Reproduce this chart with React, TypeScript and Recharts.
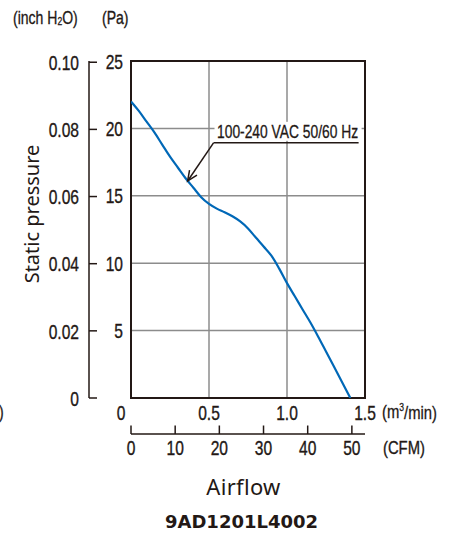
import React from "react";
import {
  LineChart,
  Line,
  XAxis,
  YAxis,
  CartesianGrid,
  ReferenceArea,
  ReferenceLine,
} from "recharts";

// P-Q curve (m3/min vs Pa)
const FLOW_M3 = [
  0, 0.05, 0.1, 0.15, 0.2, 0.25, 0.3, 0.35, 0.4, 0.45, 0.5, 0.55, 0.6, 0.65,
  0.7, 0.75, 0.8, 0.85, 0.9, 0.95, 1.0, 1.05, 1.1, 1.15, 1.2, 1.25, 1.3, 1.35,
  1.406,
];
const PRESSURE_PA = [
  22.0, 21.3, 20.5, 19.7, 18.8, 17.9, 17.1, 16.3, 15.6, 14.9, 14.4, 14.05,
  13.78, 13.48, 13.1, 12.58, 11.9, 11.24, 10.56, 9.6, 8.52, 7.55, 6.57, 5.6,
  4.55, 3.45, 2.35, 1.24, 0,
];

const PA_TICKS = [5, 10, 15, 20, 25];
const INCH_TICKS = [0, 0.02, 0.04, 0.06, 0.08, 0.1];
const M3_TICKS = [0, 0.5, 1.0, 1.5];
const CFM_TICKS = [0, 10, 20, 30, 40, 50];

const PA_MAX = 25;
const M3_MAX = 1.5;
const PA_PER_INCH = 249.089;
const CFM_PER_M3 = 35.3147;

// leader line of the curve label, in m3/min and Pa
const LABEL_TIP = { x: 0.363, y: 16.1 };
const LABEL_ELBOW = { x: 0.529, y: 18.93 };
const LABEL_END = { x: 1.459, y: 18.93 };
const CURVE_LABEL = "100-240 VAC  50/60 Hz";

const data = FLOW_M3.map((m3, i) => ({
  m3,
  cfm: m3 * CFM_PER_M3,
  pa: PRESSURE_PA[i],
  inch: PRESSURE_PA[i] / PA_PER_INCH,
}));

const INK = "#231815";
const GRID = "#8c8c8c";
const BLUE = "#0068b7";
const FONT = "'Liberation Sans', Arial, sans-serif";
const SANS = "'Noto Sans', 'Open Sans', sans-serif";
const SX = 0.78; // the datasheet uses a condensed face

// axis ids: recharts stacks same-side axes in id order, "a_" sits next to the plot
const X_M3 = "a_m3";
const X_CFM = "b_cfm";
const Y_PA = "a_pa";
const Y_INCH = "b_inch";

// condensed text: squeeze horizontally around the anchor point
const CText = ({ x, y, size = 20, anchor = "start", children }: any) => (
  <text
    transform={`translate(${x},${y}) scale(${SX},1)`}
    textAnchor={anchor}
    dominantBaseline="central"
    fontFamily={FONT}
    fontSize={size}
    fill={INK}
    stroke={INK}
    strokeWidth={0.35}
  >
    {children}
  </text>
);

const PaTick = (props: any) => {
  const { x, y, payload } = props;
  return (
    <CText x={x - 8} y={y + 1} anchor="end">
      {payload.value}
    </CText>
  );
};

const InchTick = (props: any) => {
  const { x, y, payload } = props;
  const v = payload.value;
  return (
    <g>
      <line x1={x} y1={y} x2={x + 8} y2={y} stroke={INK} strokeWidth={1.5} />
      <CText x={x - 10} y={y + 1} anchor="end">
        {v === 0 ? "0" : v.toFixed(2)}
      </CText>
    </g>
  );
};

const M3Tick = (props: any) => {
  const { x, y, payload } = props;
  const v = payload.value;
  return (
    <CText x={v === 0 ? x - 10 : x} y={y + 15} anchor="middle">
      {v === 0 ? "0" : v.toFixed(1)}
    </CText>
  );
};

const CfmTick = (props: any) => {
  const { x, y, payload } = props;
  return (
    <g>
      <line x1={x} y1={y - 8.5} x2={x} y2={y} stroke={INK} strokeWidth={1.5} />
      <CText x={x} y={y + 14} anchor="middle">
        {payload.value}
      </CText>
    </g>
  );
};

const ArrowShape = (props: any) => {
  const { x1, y1, x2, y2 } = props;
  const a = Math.atan2(y2 - y1, x2 - x1);
  const len = 11;
  const spread = 0.42;
  const p1 = [x2 - len * Math.cos(a - spread), y2 - len * Math.sin(a - spread)];
  const p2 = [x2 - len * Math.cos(a + spread), y2 - len * Math.sin(a + spread)];
  return (
    <g>
      <line x1={x1} y1={y1} x2={x2} y2={y2} stroke={INK} strokeWidth={1.5} />
      <polyline
        points={`${p1[0]},${p1[1]} ${x2},${y2} ${p2[0]},${p2[1]}`}
        fill="none"
        stroke={INK}
        strokeWidth={1.5}
      />
    </g>
  );
};

const LabelShape = (props: any) => {
  const { x1, y1, x2 } = props;
  return (
    <g>
      <rect x={x1 + 1} y={y1 - 21} width={x2 - x1 + 2} height={19} fill="#fff" />
      <line x1={x1} y1={y1} x2={x2} y2={y1} stroke={INK} strokeWidth={1.5} />
      <text
        x={x1 + 3.5}
        y={y1 - 11}
        dominantBaseline="central"
        fontFamily={FONT}
        fontSize={18}
        fill={INK}
        stroke={INK}
        strokeWidth={0.3}
        textLength={x2 - x1 - 4}
        lengthAdjust="spacingAndGlyphs"
      >
        {CURVE_LABEL}
      </text>
    </g>
  );
};

export default function App() {
  return (
    <div
      style={{
        position: "absolute",
        left: 0,
        top: 0,
        width: 455,
        height: 535,
        background: "#fff",
      }}
    >
      <LineChart
        width={455}
        height={535}
        data={data}
        margin={{ top: 61, right: 90, bottom: 71, left: 9 }}
      >
        <CartesianGrid
          xAxisId={X_M3}
          yAxisId={Y_PA}
          stroke={GRID}
          strokeWidth={1.5}
        />
        <XAxis
          xAxisId={X_M3}
          dataKey="m3"
          type="number"
          domain={[0, M3_MAX]}
          ticks={M3_TICKS}
          allowDataOverflow
          height={36}
          axisLine={false}
          tickLine={false}
          tickSize={0}
          tickMargin={0}
          tick={<M3Tick />}
        />
        <XAxis
          xAxisId={X_CFM}
          dataKey="cfm"
          type="number"
          domain={[0, M3_MAX * CFM_PER_M3]}
          ticks={CFM_TICKS}
          allowDataOverflow
          height={30}
          axisLine={{ stroke: INK, strokeWidth: 1.5 }}
          tickLine={false}
          tickSize={0}
          tickMargin={0}
          tick={<CfmTick />}
        />
        <YAxis
          yAxisId={Y_PA}
          dataKey="pa"
          type="number"
          domain={[0, PA_MAX]}
          ticks={PA_TICKS}
          allowDataOverflow
          width={42}
          axisLine={false}
          tickLine={false}
          tickSize={0}
          tickMargin={0}
          tick={<PaTick />}
        />
        <YAxis
          yAxisId={Y_INCH}
          dataKey="inch"
          type="number"
          domain={[0, PA_MAX / PA_PER_INCH]}
          ticks={INCH_TICKS}
          allowDataOverflow
          width={80}
          axisLine={{ stroke: INK, strokeWidth: 1.5 }}
          tickLine={false}
          tickSize={0}
          tickMargin={0}
          tick={<InchTick />}
        />
        <ReferenceArea
          xAxisId={X_M3}
          yAxisId={Y_PA}
          x1={0}
          x2={M3_MAX}
          y1={0}
          y2={PA_MAX}
          fill="none"
          fillOpacity={0}
          stroke={INK}
          strokeWidth={2}
        />
        <Line
          xAxisId={X_M3}
          yAxisId={Y_PA}
          dataKey="pa"
          type="monotone"
          stroke={BLUE}
          strokeWidth={2.2}
          dot={false}
          activeDot={false}
          isAnimationActive={false}
        />
        <ReferenceLine
          xAxisId={X_M3}
          yAxisId={Y_PA}
          segment={[LABEL_ELBOW, LABEL_TIP]}
          shape={<ArrowShape />}
        />
        <ReferenceLine
          xAxisId={X_M3}
          yAxisId={Y_PA}
          segment={[LABEL_ELBOW, LABEL_END]}
          shape={<LabelShape />}
        />
      </LineChart>
      <svg
        width={455}
        height={535}
        style={{ position: "absolute", left: 0, top: 0, pointerEvents: "none" }}
      >
        <text
          transform={`translate(13,17) scale(${SX},1)`}
          dominantBaseline="central"
          fontFamily={FONT}
          fontSize={18}
          fill={INK}
          stroke={INK}
          strokeWidth={0.3}
        >
          (inch H
          <tspan fontSize={11} dy={4}>2</tspan>
          <tspan dy={-4}>O)</tspan>
        </text>
        <CText x={102} y={17} size={18}>
          (Pa)
        </CText>
        <CText x={-1} y={411} size={18}>
          )
        </CText>
        <text
          transform={`translate(382,412) scale(${SX},1)`}
          dominantBaseline="central"
          fontFamily={FONT}
          fontSize={19}
          fill={INK}
          stroke={INK}
          strokeWidth={0.3}
        >
          (m
          <tspan fontSize={11} dy={-5}>3</tspan>
          <tspan dy={5}>/min)</tspan>
        </text>
        <CText x={383} y={448} size={19}>
          (CFM)
        </CText>
        <text
          transform="translate(31,214) rotate(-90)"
          textAnchor="middle"
          dominantBaseline="central"
          fontFamily={SANS}
          fontSize={20}
          fill={INK}
        >
          Static pressure
        </text>
        <text
          x={243.5}
          y={486}
          textAnchor="middle"
          dominantBaseline="central"
          fontFamily={SANS}
          fontSize={22}
          letterSpacing={0.3}
          fill={INK}
        >
          Airflow
        </text>
        <text
          x={241.5}
          y={521}
          textAnchor="middle"
          dominantBaseline="central"
          fontFamily="'DejaVu Sans', sans-serif"
          fontWeight="bold"
          fontSize={18}
          fill={INK}
        >
          9AD1201L4002
        </text>
      </svg>
    </div>
  );
}
